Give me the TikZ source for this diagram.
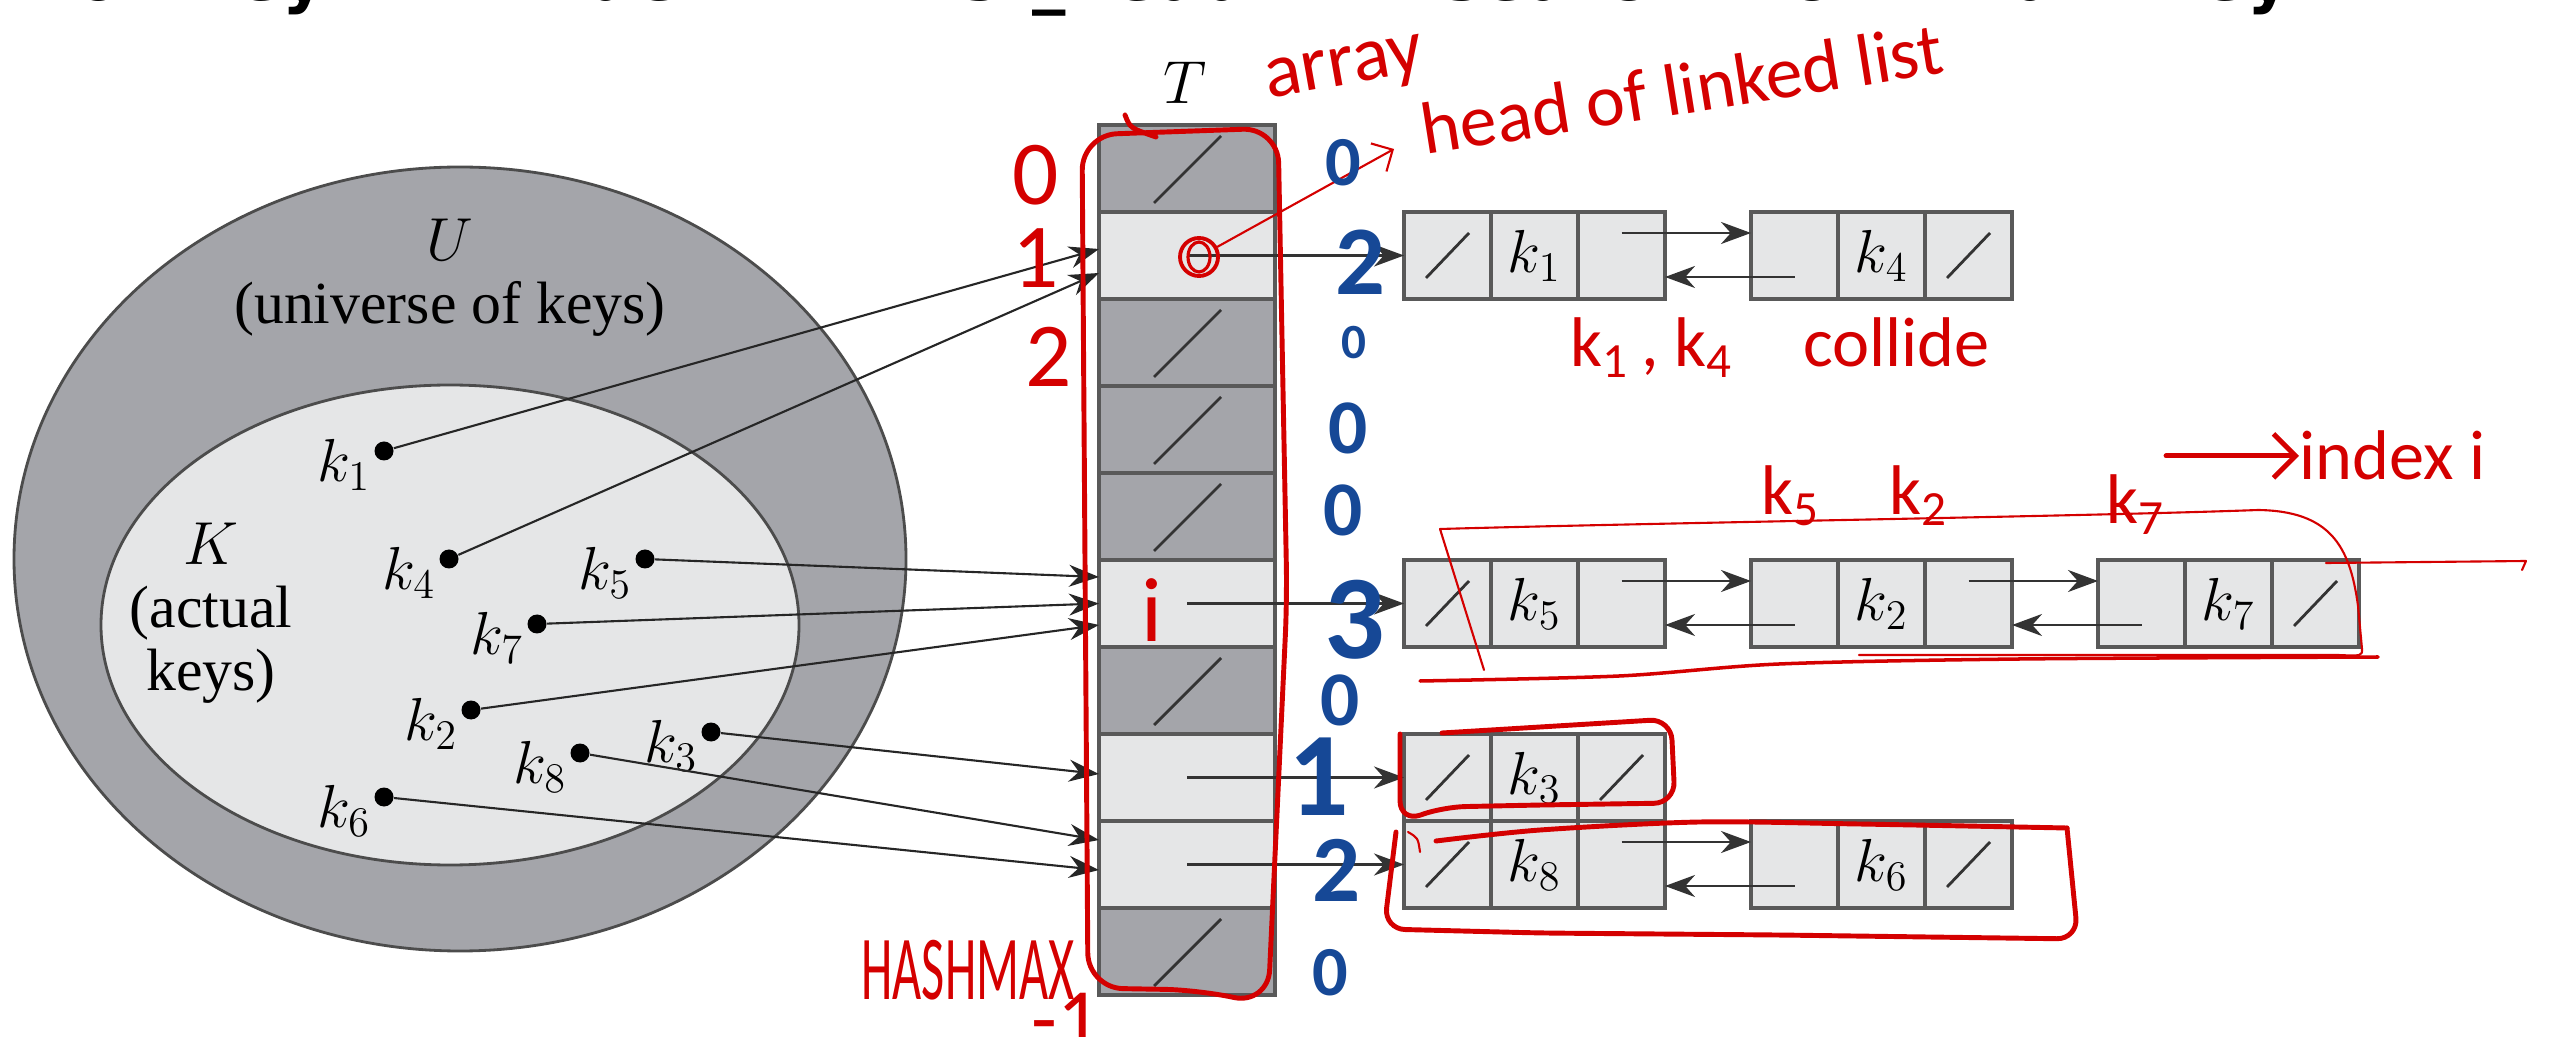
\documentclass[tikz,border=0pt]{standalone}
\usepackage{fontspec}
\usepackage{graphicx}
\setmainfont{Liberation Serif}
\newfontfamily\handfont{Carlito}
\newfontfamily\inkfont{DejaVu Sans}
\usetikzlibrary{arrows.meta,calc,positioning}

\definecolor{slotdark}{RGB}{164,165,170}
\definecolor{slotlight}{RGB}{229,230,231}
\definecolor{inkred}{RGB}{212,0,0}
\definecolor{inkblue}{RGB}{22,72,150}

% list element with prev / key / next fields: \elem{name}{left x}{y}{key index}
\newcommand{\elem}[4]{%
  \node[field] (#1p) at (#2+0.435,#3) {};
  \node[field, right=0pt of #1p] (#1k) {$k_{#4}$};
  \node[field, right=0pt of #1k] (#1n) {};
}

\begin{document}
\begin{tikzpicture}[
    field/.style={draw=black!65, line width=0.9pt, fill=slotlight, minimum width=0.87cm,
      minimum height=0.87cm, inner sep=0pt, outer sep=0pt, font=\fontsize{17}{20}\selectfont},
    slot/.style={draw=black!65, line width=0.9pt, minimum width=1.76cm, minimum height=0.87cm,
      inner sep=0pt, outer sep=0pt},
    dot/.style={circle, fill=black, inner sep=0pt, minimum size=0.19cm},
    keyname/.style={font=\fontsize{17}{18}\selectfont, inner sep=0pt},
    hash/.style={-{Stealth[length=3mm,width=2.2mm]}, line width=0.6pt, black!85},
    ptr/.style={-{Stealth[length=3mm,width=2.2mm]}, line width=0.8pt, black!80},
    nil/.style={line width=0.8pt, black!80},
    redpen/.style={inkred, line width=1.4pt, line cap=round, line join=round},
    redthin/.style={inkred, line width=0.6pt, line cap=round, line join=round},
    rednote/.style={inkred, inner sep=0pt, font=\handfont\fontsize{20}{22}\selectfont},
    bluenote/.style={inkblue, inner sep=0pt},
  ]
  \useasboundingbox (0,0) rectangle (25.52,10.36);

  % scribbled steps along the top edge
  \node[anchor=base west, inner sep=0pt, font=\inkfont\bfseries\fontsize{19}{21}\selectfont] (steps)
    at (0.70,10.35) {\makebox[22.2cm][s]{❸ key → index → list\_head → search for that key}};

  % universe U and actual keys K
  \draw[fill=slotdark, draw=black!70, line width=0.8pt] (4.60,4.77) ellipse [x radius=4.46, y radius=3.92];
  \draw[fill=slotlight, draw=black!70, line width=0.8pt] (4.50,4.11) ellipse [x radius=3.49, y radius=2.40];
  \node[keyname, align=center] (univ) at (4.50,7.58) {$U$\\(universe of keys)};
  \node[keyname, align=center] (actual) at (2.11,4.23) {$K$\\(actual\\keys)};

  \foreach \n/\x/\y in {1/3.84/5.85, 4/4.49/4.77, 5/6.45/4.77, 7/5.37/4.12,
                        2/4.71/3.26, 3/7.11/3.04, 8/5.80/2.83, 6/3.84/2.39}{
    \node[dot] (key\n) at (\x,\y) {};
    \node[keyname] (name\n) at ($(key\n)+(-0.40,-0.14)$) {$k_{\n}$};
  }

  % table T
  \foreach \i/\c in {0/slotdark, 1/slotlight, 2/slotdark, 3/slotdark, 4/slotdark,
                     5/slotlight, 6/slotdark, 7/slotlight, 8/slotlight, 9/slotdark}{
    \node[slot, fill=\c] (c\i) at (11.87,8.675-0.87*\i) {};
  }
  \foreach \i in {0,2,3,4,6,9}
    \draw[nil] ([shift={(-0.33,-0.345)}]c\i.center) -- ([shift={(0.34,0.325)}]c\i.center);
  \node[keyname] (tname) at (11.85,9.53) {$T$};

  % chains
  \elem{e1}{14.04}{7.805}{1}
  \elem{e4}{17.51}{7.805}{4}
  \elem{e5}{14.04}{4.325}{5}
  \elem{e2}{17.51}{4.325}{2}
  \elem{e7}{20.98}{4.325}{7}
  \elem{e3}{14.04}{2.585}{3}
  \elem{e8}{14.04}{1.715}{8}
  \elem{e6}{17.51}{1.715}{6}

  \foreach \f in {e1p,e4n,e5p,e7n,e3p,e3n,e8p,e6n}
    \draw[nil] ([shift={(-0.215,-0.225)}]\f.center) -- ([shift={(0.215,0.225)}]\f.center);

  \foreach \i/\f in {1/e1p, 5/e5p, 7/e3p, 8/e8p}
    \draw[ptr] (c\i.center) -- (\f.west);

  \foreach \a/\b in {e1/e4, e5/e2, e2/e7, e8/e6}{
    \draw[ptr] ([yshift=0.225cm]\a n.center) -- ([yshift=0.225cm]\b p.west);
    \draw[ptr] ([yshift=-0.215cm]\b p.center) -- ([yshift=-0.215cm]\a n.east);
  }

  % h(k) for every key
  \foreach \k/\c/\d in {1/1/0.065, 4/1/-0.175, 5/5/0.265, 7/5/0.0,
                        2/5/-0.215, 3/7/0.035, 8/8/0.245, 6/8/-0.055}
    \draw[hash] (key\k) -- ([yshift=\d cm]c\c.west);

  % red notes
  \node[rednote, font=\handfont\fontsize{22}{24}\selectfont, rotate=10] (arraynote) at (13.45,9.64) {array};
  \node[rednote, anchor=base west, rotate=9, font=\handfont\fontsize{21}{23}\selectfont] (headnote)
    at (14.25,8.81) {head of linked list};
  \node[circle, draw=inkred, line width=1.1pt, minimum size=0.38cm, inner sep=0pt] (headmark) at (11.99,7.79) {};
  \draw[redpen, line width=0.9pt] (headmark.center) ellipse [x radius=0.11, y radius=0.15];
  \coordinate (headtip) at (13.94,8.87);
  \draw[redthin, -{Straight Barb[length=1.6mm]}] (headmark) -- (headtip);

  \node[rednote, anchor=base west] (collide) at (15.70,6.69)
    {k\textsubscript{1}\,, k\textsubscript{4}\quad collide};

  \node[rednote, anchor=base] (note5) at (17.91,5.21) {k\textsubscript{5}};
  \node[rednote, anchor=base] (note2) at (19.19,5.21) {k\textsubscript{2}};
  \node[rednote, anchor=base] (note7) at (21.36,5.12) {k\textsubscript{7}};
  \node[rednote, anchor=base west] (idx) at (22.99,5.56) {index i};
  \draw[redpen, -{Straight Barb[length=2.2mm]}] (note7.east |- idx.west) -- (idx.west);

  \foreach \t/\x/\y [count=\j] in {0/10.36/8.61, 1/10.36/7.78, 2/10.49/6.79, i/11.52/4.26}
    \node[rednote, font=\handfont\fontsize{26}{28}\selectfont] (slotno\j) at (\x,\y) {\t};
  \node[rednote, font=\handfont\fontsize{26}{28}\selectfont] (hashmax) at (9.68,0.66) {\scalebox{0.55}[1]{HASHMAX}};
  \node[rednote, font=\handfont\fontsize{24}{26}\selectfont] (hashmaxm) at (10.66,0.16) {-1};

  % red loops round the table and the chains
  \draw[redpen, rounded corners=10pt] (10.82,9.01) -- (12.78,9.08) -- (12.87,4.36)
    -- (12.68,0.31) -- (12.00,0.46) -- (10.88,0.48) -- cycle;
  \draw[redpen] (11.25,9.21) .. controls (11.30,9.08) .. (11.56,8.99);

  \draw[redthin] (14.84,3.66) -- (14.40,5.07) .. controls (16.5,5.13) and (21.0,5.20) .. (22.58,5.26)
    .. controls (23.30,5.25) and (23.50,4.90) .. (23.58,4.30) -- (23.62,3.87)
    .. controls (23.62,3.80) .. (23.38,3.81) -- (18.59,3.81);
  \draw[redpen, line width=1pt] plot[smooth] coordinates {(14.20,3.55) (16.19,3.60) (17.79,3.72) (20.19,3.77) (23.78,3.79)};
  \draw[redthin] (23.26,4.73) -- (25.26,4.75) -- (25.22,4.66);

  \draw[redpen, rounded corners=6pt] (14.42,3.03) -- (16.71,3.17) -- (16.75,2.33) -- (15.40,2.31)
    -- (14.44,2.29) -- (14.00,2.14) -- (14.00,3.02);

  \draw[redpen] plot[smooth] coordinates {(14.36,1.95) (15.40,2.06) (16.99,2.14) (18.59,2.12) (20.67,2.08)};
  \draw[redpen, rounded corners=6pt] (20.67,2.08) -- (20.78,0.97) -- (17.79,1.01) -- (15.40,1.03)
    -- (13.84,1.07) -- (13.96,2.04);
  \draw[redthin] (14.08,2.04) .. controls (14.18,1.98) .. (14.20,1.84);

  % blue counts per slot
  \foreach \x/\y/\s/\d [count=\j] in {13.43/8.73/20/0, 13.60/7.74/28/2, 13.54/6.93/14/0,
      13.48/6.08/22/0, 13.43/5.26/22/0, 13.55/4.16/34/3, 13.40/3.36/22/0,
      13.19/2.59/34/1, 13.37/1.66/27/2, 13.30/0.63/20/0}
    \node[bluenote, font=\handfont\bfseries\fontsize{\s}{\s}\selectfont] (count\j) at (\x,\y) {\d};
\end{tikzpicture}
\end{document}
